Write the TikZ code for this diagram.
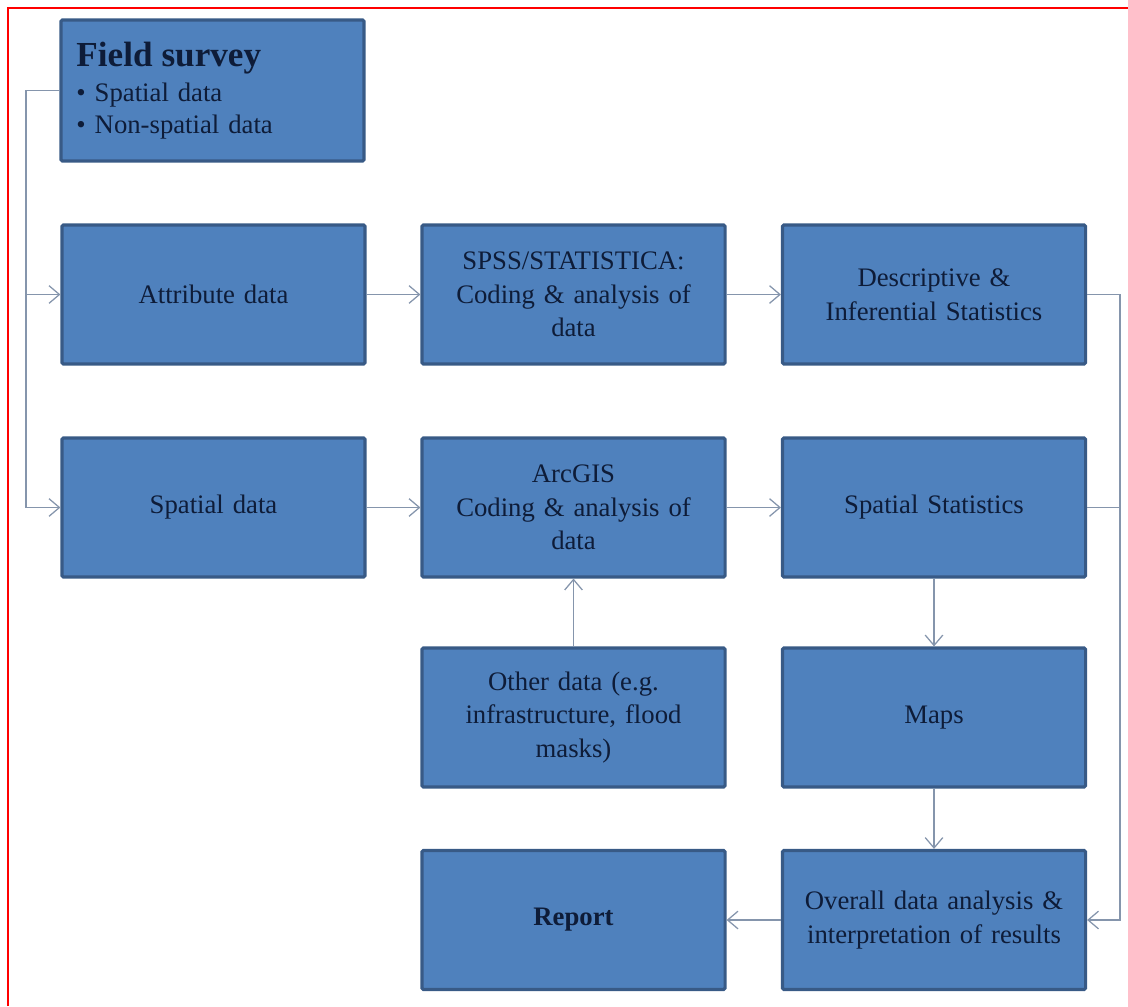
\documentclass[tikz,border=0pt]{standalone}
\usepackage{fontspec}
\setmainfont{Liberation Serif}
\usepackage{tikz}
\usepackage{xcolor}
\usetikzlibrary{arrows.meta,calc}
\definecolor{BoxFill}{HTML}{4F81BD}
\definecolor{BoxEdge}{HTML}{385A86}
\definecolor{BoxText}{HTML}{0E1C38}
\definecolor{LinkGrey}{HTML}{8595AC}
\definecolor{FrameRed}{HTML}{FF0000}
\tikzset{
    every node/.style={font=\fontsize{19}{24}\selectfont},
    procbox/.style={
        draw=BoxEdge, fill=BoxFill, line width=2.2pt,
        minimum width=7.575cm, minimum height=3.475cm,
        text width=7cm, align=center, rounded corners=1pt,
        text=BoxText
    },
    flowline/.style={
        line width=0.9pt, color=LinkGrey
    },
    flowarrow/.style={
        flowline, -{Straight Barb[length=2.6mm,width=4.4mm]}
    },
}

\begin{document}
\begin{tikzpicture}[x=0.025cm, y=-0.025cm]
    \useasboundingbox (0,0) rectangle (1128,1006);

    % Frame
    \draw[FrameRed, line width=1.4pt] (8,1006) -- (8,8) -- (1128,8);

    % Source box
    \node[procbox, minimum height=3.525cm, align=left, text width=6.8cm] (field) at (212.5,90.5)
        {{\fontsize{25}{30}\selectfont\bfseries Field survey}\\[1pt]
         \textbullet\ Spatial data\\[-1pt]
         \textbullet\ Non-spatial data};

    % Row 1
    \node[procbox] (attr) at (213.5,294.5) {Attribute data};
    \node[procbox] (spss) at (573.5,294.5) {SPSS/STATISTICA:\\Coding \& analysis of\\data};
    \node[procbox] (desc) at (934,294.5) {Descriptive \&\\Inferential Statistics};

    % Row 2
    \node[procbox] (spat) at (213.5,507.5) {Spatial data};
    \node[procbox] (arcgis) at (573.5,507.5) {ArcGIS\\Coding \& analysis of\\data};
    \node[procbox] (sstat) at (934,507.5) {Spatial Statistics};

    % Row 3
    \node[procbox] (other) at (573.5,717.5) {Other data (e.g.\\infrastructure, flood\\masks)};
    \node[procbox] (maps) at (934,717.5) {Maps};

    % Row 4
    \node[procbox] (report) at (573.5,920) {\bfseries Report};
    \node[procbox] (overall) at (934,920) {Overall data analysis \&\\interpretation of results};

    % Bus coordinates
    \coordinate (lbus) at (26,507.5);
    \coordinate (rbus) at (1120,920);

    % Left feeder
    \draw[flowarrow] (field.west) -| (lbus) -- (spat.west);
    \draw[flowarrow] (attr.west -| lbus) -- (attr.west);

    % Main flow
    \draw[flowarrow] (attr) -- (spss);
    \draw[flowarrow] (spss) -- (desc);
    \draw[flowarrow] (spat) -- (arcgis);
    \draw[flowarrow] (arcgis) -- (sstat);
    \draw[flowarrow] (other) -- (arcgis);
    \draw[flowarrow] (sstat) -- (maps);
    \draw[flowarrow] (maps) -- (overall);
    \draw[flowarrow] (overall) -- (report);

    % Right collector
    \draw[flowarrow] (desc.east) -| (rbus) -- (overall.east);
    \draw[flowline] (sstat.east) -- (sstat.east -| rbus);
\end{tikzpicture}
\end{document}
